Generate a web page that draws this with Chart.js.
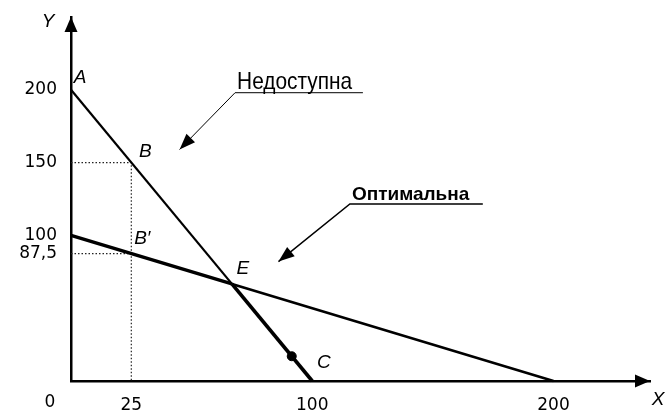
<!DOCTYPE html>
<html>
<head>
<meta charset="utf-8">
<script src="https://cdn.jsdelivr.net/npm/chart.js@4"></script>
<style>
  html, body { margin: 0; padding: 0; background: #fff; }
  canvas { display: block; }
</style>
</head>
<body>
<canvas id="myChart" width="665" height="411"></canvas>
<script>
// labelled points of the diagram
const pointNames = ["A", "B", "B′", "E", "C"];
const pointX = [0, 25, 25, 66.7, 91.5];
const pointY = [200, 150, 87.5, 66.7, 17];

// line through A and E down to the X axis
const line1X = [0, 66.7, 100];
const line1Y = [200, 66.7, 0];

// line through B' and E down to the X axis
const line2X = [0, 66.7, 200];
const line2Y = [100, 66.7, 0];

// dotted guides to B and B'
const guideBX = [0, 25, 25];
const guideBY = [150, 150, 0];
const guideB2X = [0, 25];
const guideB2Y = [87.5, 87.5];

// tick labels
const xTicks = [25, 100, 200];
const yTicks = [87.5, 100, 150, 200];

// callouts
const calloutLabels = ["Недоступна", "Оптимальна"];

// layout of the callouts, in axis units: arrow tip, elbow, end of underline
const calloutLayout = [
  { tip: [45, 159], elbow: [68, 198], end: 121, font: '24px "Liberation Sans", Arial, sans-serif', squeeze: 0.87, width: 1 },
  { tip: [86, 82], elbow: [115.6, 121.6], end: 170.7, font: 'bold 19px "Liberation Sans", Arial, sans-serif', squeeze: 1, width: 1.5 }
];
// label offsets from the points, pixels
const pointLabelOffset = [[9, -12], [14, -11], [11, -15], [11, -15], [32, 6]];

const pts = (xs, ys) => xs.map((v, i) => ({ x: v, y: ys[i] }));

function arrowHead(ctx, fx, fy, tx, ty, len, half) {
  const a = Math.atan2(ty - fy, tx - fx);
  ctx.beginPath();
  ctx.moveTo(tx, ty);
  ctx.lineTo(tx - len * Math.cos(a) + half * Math.sin(a), ty - len * Math.sin(a) - half * Math.cos(a));
  ctx.lineTo(tx - len * Math.cos(a) - half * Math.sin(a), ty - len * Math.sin(a) + half * Math.cos(a));
  ctx.closePath();
  ctx.fill();
}

const annotate = {
  id: "annotate",
  afterDraw(chart) {
    const { ctx, chartArea: a, scales: { x, y } } = chart;
    ctx.save();
    ctx.fillStyle = "#000";
    ctx.strokeStyle = "#000";

    // axis arrows
    arrowHead(ctx, a.left, a.bottom, a.left, a.top, 15, 6.5);
    arrowHead(ctx, a.left, a.bottom, a.right, a.bottom, 15, 6.5);

    // axis names and origin
    ctx.font = 'italic 19px "Liberation Sans", Arial, sans-serif';
    ctx.textAlign = "center";
    ctx.textBaseline = "middle";
    ctx.fillText("Y", a.left - 23, a.top + 5);
    ctx.fillText("X", a.right + 8, a.bottom + 19);
    ctx.font = '17px "DejaVu Sans", sans-serif';
    ctx.fillText("0", a.left - 21, a.bottom + 22);

    // point letters
    ctx.font = 'italic 19px "Liberation Sans", Arial, sans-serif';
    pointNames.forEach((n, i) => {
      const px = x.getPixelForValue(pointX[i]) + pointLabelOffset[i][0];
      const py = y.getPixelForValue(pointY[i]) + pointLabelOffset[i][1];
      ctx.fillText(n, px, py);
    });

    // callouts
    calloutLabels.forEach((t, i) => {
      const c = calloutLayout[i];
      const tx = x.getPixelForValue(c.tip[0]), ty = y.getPixelForValue(c.tip[1]);
      const ex = x.getPixelForValue(c.elbow[0]), ey = y.getPixelForValue(c.elbow[1]);
      const endX = x.getPixelForValue(c.end);
      ctx.lineWidth = c.width;
      ctx.beginPath();
      ctx.moveTo(endX, ey);
      ctx.lineTo(ex, ey);
      ctx.lineTo(tx, ty);
      ctx.stroke();
      arrowHead(ctx, ex, ey, tx, ty, 16, 6);
      ctx.save();
      ctx.font = c.font;
      ctx.textAlign = "left";
      ctx.textBaseline = "alphabetic";
      ctx.translate(ex + 2, ey - 4);
      ctx.scale(c.squeeze, 1);
      ctx.fillText(t, 0, 0);
      ctx.restore();
    });
    ctx.restore();
  }
};

const thin = 2.2, thick = 3.6;

new Chart(document.getElementById("myChart").getContext("2d"), {
  type: "line",
  data: {
    datasets: [
      {
        data: pts(line1X, line1Y),
        borderColor: "#000",
        segment: { borderWidth: c => (c.p0DataIndex === 0 ? thin : thick) },
        pointRadius: 0
      },
      {
        data: pts(line2X, line2Y),
        borderColor: "#000",
        segment: { borderWidth: c => (c.p0DataIndex === 0 ? thick : thin + 0.4) },
        pointRadius: 0
      },
      {
        data: pts(guideBX, guideBY),
        borderColor: "#222",
        borderWidth: 1.2,
        borderDash: [1.5, 2],
        pointRadius: 0
      },
      {
        data: pts(guideB2X, guideB2Y),
        borderColor: "#222",
        borderWidth: 1.2,
        borderDash: [1.5, 2],
        pointRadius: 0
      },
      {
        data: pts(pointX.slice(4), pointY.slice(4)),
        showLine: false,
        pointRadius: 4.5,
        pointBackgroundColor: "#000",
        pointBorderColor: "#000"
      }
    ]
  },
  options: {
    responsive: false,
    animation: false,
    clip: false,
    layout: { padding: { top: 17, right: 15, left: 0, bottom: 0 } },
    plugins: { legend: { display: false }, tooltip: { enabled: false } },
    scales: {
      x: {
        type: "linear",
        min: 0,
        max: 240,
        grid: { display: false, drawTicks: false },
        border: { display: true, color: "#000", width: 2.5 },
        afterFit: s => { s.height = 30; s.paddingLeft = 0; s.paddingRight = 0; },
        afterBuildTicks: s => { s.ticks = xTicks.map(v => ({ value: v })); },
        ticks: {
          color: "#000",
          padding: 14,
          maxRotation: 0,
          font: { family: '"DejaVu Sans", sans-serif', size: 17 }
        }
      },
      y: {
        min: 0,
        max: 250,
        grid: { display: false, drawTicks: false },
        border: { display: true, color: "#000", width: 2.5 },
        afterFit: s => { s.width = 71; s.paddingTop = 0; s.paddingBottom = 0; },
        afterBuildTicks: s => { s.ticks = yTicks.map(v => ({ value: v })); },
        ticks: {
          color: "#000",
          padding: 14,
          font: { family: '"DejaVu Sans", sans-serif', size: 17 },
          callback: v => String(v).replace(".", ",")
        }
      }
    }
  },
  plugins: [annotate]
});
</script>
</body>
</html>
